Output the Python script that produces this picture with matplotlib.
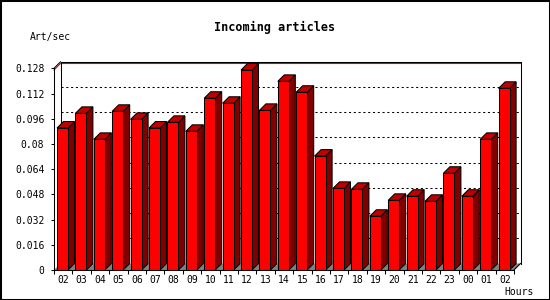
import matplotlib
matplotlib.use("Agg")
import matplotlib.pyplot as plt
from matplotlib.patches import Polygon, Rectangle

# ---- data ----
hours = ["02", "03", "04", "05", "06", "07", "08", "09", "10", "11", "12", "13",
         "14", "15", "16", "17", "18", "19", "20", "21", "22", "23", "00", "01", "02"]
rates = [0.0901, 0.0994, 0.0829, 0.1007, 0.0956, 0.0901, 0.0937, 0.0880, 0.1090,
         0.1058, 0.1269, 0.1013, 0.1197, 0.1128, 0.0723, 0.0518, 0.0512, 0.0341,
         0.0442, 0.0468, 0.0436, 0.0614, 0.0468, 0.0829, 0.1153]
y_ticks = [0, 0.016, 0.032, 0.048, 0.064, 0.080, 0.096, 0.112, 0.128]
y_tick_labels = ["0", "0.016", "0.032", "0.048", "0.064", "0.08", "0.096", "0.112", "0.128"]
title = "Incoming articles"
y_unit = "Art/sec"
x_unit = "Hours"

FONT = "DejaVu Sans Mono"
W, H = 550, 300
fig = plt.figure(figsize=(W / 100, H / 100), dpi=100)
fig.patch.set_facecolor("white")

# front plane in pixels
left_px, right_px, bottom_px, top_px = 54, 514, 270, 68.3
ax = fig.add_axes([left_px / W, (H - bottom_px) / H,
                   (right_px - left_px) / W, (bottom_px - top_px) / H])
n = len(rates)
ymax = y_ticks[-1]
ax.set_xlim(0, n)
ax.set_ylim(0, ymax)
ax.set_facecolor("none")

# 3D depth offset (pixels -> data units)
depth_px = 6.5
px_x = (right_px - left_px) / n
px_y = (bottom_px - top_px) / ymax
dx = depth_px / px_x
dy = depth_px / px_y
lw = 0.75

# floor
ax.add_patch(Polygon([(0, 0), (n, 0), (n + dx, dy), (dx, dy)], closed=True,
                     facecolor="#808080", edgecolor="none", zorder=1, clip_on=False))

# back plane grid lines (dotted)
for g in y_ticks[1:-1]:
    ax.plot([dx, n + dx], [g + dy, g + dy], color="black", lw=lw,
            dashes=(2.0, 2.6), zorder=1.5, clip_on=False)

# max line (red)
vmax = max(rates)
ax.plot([0, dx, n + dx], [vmax, vmax + dy, vmax + dy], color="#ee0000",
        lw=lw, zorder=1.6, clip_on=False)

# back plane frame
ax.plot([dx, dx, n + dx, n + dx], [dy, ymax + dy, ymax + dy, dy],
        color="black", lw=lw, zorder=1.7, clip_on=False)
ax.plot([0, dx], [ymax, ymax + dy], color="black", lw=lw, zorder=1.7, clip_on=False)
ax.plot([n, n + dx], [0, dy], color="black", lw=lw, zorder=1.7, clip_on=False)

# bars
off = 3 / px_x
bw = 11 / px_x
for i, v in enumerate(rates):
    x0 = i + off
    x1 = x0 + bw
    ax.add_patch(Polygon([(x1, 0), (x1 + dx, dy), (x1 + dx, v + dy), (x1, v)],
                         closed=True, facecolor="#800000", edgecolor="black",
                         lw=lw, zorder=3, clip_on=False))
    ax.add_patch(Polygon([(x0, v), (x1, v), (x1 + dx, v + dy), (x0 + dx, v + dy)],
                         closed=True, facecolor="#c00000", edgecolor="black",
                         lw=lw, zorder=3, clip_on=False))
    ax.add_patch(Polygon([(x0, 0), (x1, 0), (x1, v), (x0, v)],
                         closed=True, facecolor="#ff0000", edgecolor="black",
                         lw=lw, zorder=3, clip_on=False))

# axes spines / ticks
for s in ["top", "right"]:
    ax.spines[s].set_visible(False)
for s in ["left", "bottom"]:
    ax.spines[s].set_linewidth(lw)
    ax.spines[s].set_zorder(4)

ax.set_yticks(y_ticks)
ax.set_yticklabels(y_tick_labels, fontfamily=FONT, fontsize=7)
ax.tick_params(axis="y", length=2.5, width=lw, pad=4.5)

ax.set_xticks(range(n + 1))
ax.set_xticklabels([])
ax.tick_params(axis="x", which="major", length=3, width=lw)
ax.set_xticks([i + 0.5 for i in range(n)], minor=True)
ax.set_xticklabels(hours, minor=True, fontfamily=FONT, fontsize=7)
ax.tick_params(axis="x", which="minor", length=0, pad=3.5)

# texts
fig.text(0.5, 1 - 27 / H, title, ha="center", va="center", fontfamily=FONT,
         fontweight="bold", fontsize=8.5)
fig.text(30 / W, 1 - 37 / H, y_unit, ha="left", va="center", fontfamily=FONT, fontsize=7)
fig.text(504 / W, 1 - 292 / H, x_unit, ha="left", va="center", fontfamily=FONT, fontsize=7)

# outer border
fig.patches.append(Rectangle((0, 0), 1, 1, transform=fig.transFigure, fill=False,
                             edgecolor="black", lw=2.2))

fig.savefig("out.png", dpi=100)
